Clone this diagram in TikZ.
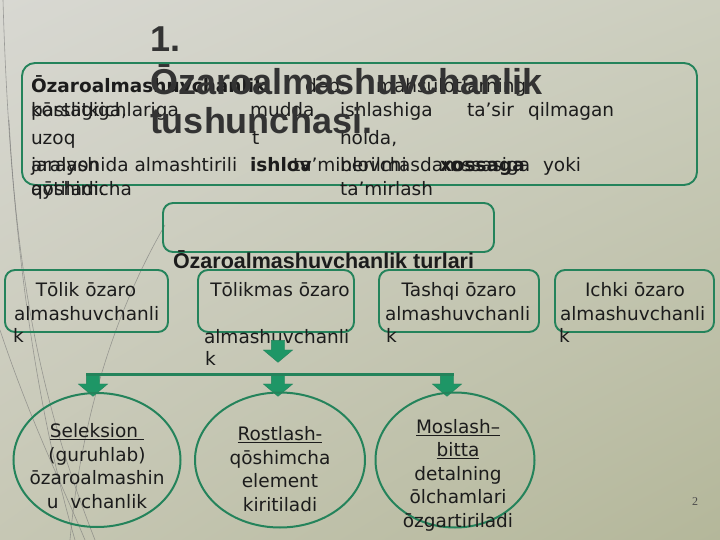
\documentclass[tikz,border=0pt]{standalone}
\usepackage{fontspec}
\setmainfont{DejaVu Sans}
\newfontfamily\headfont{Liberation Sans}
\newfontfamily\pagefont{Liberation Serif}
\usetikzlibrary{shapes.arrows,shapes.geometric,shadings}
\definecolor{edge}{HTML}{24835B}
\definecolor{arrowfill}{HTML}{1E9666}
\definecolor{ink}{HTML}{1C1C1C}
\definecolor{headgray}{HTML}{333333}
\definecolor{bgA}{RGB}{216,216,210}
\definecolor{bgB}{RGB}{204,206,190}
\definecolor{bgC}{RGB}{198,199,180}
\definecolor{bgD}{RGB}{180,183,154}

\begin{document}
\begin{tikzpicture}
[
    x=1pt, y=-1pt,
    every node/.style={inner sep=0pt, outer sep=0pt},
    box/.style={draw=edge, line width=1.9pt, rounded corners=13pt},
    ring/.style={draw=edge, line width=2pt, ellipse},
    body/.style={anchor=base west, text=ink, font=\fontsize{18.5}{22}\selectfont},
    mid/.style={anchor=base, text=ink, font=\fontsize{18.5}{22}\selectfont},
    inring/.style={text=ink, align=center, font=\fontsize{18.5}{23.5}\selectfont},
    head/.style={anchor=base west, text=headgray, font=\headfont\bfseries\fontsize{36}{40}\selectfont},
    downarrow/.style={single arrow, draw=edge, fill=arrowfill, line width=0.4pt,
        rotate=-90, inner sep=6.5pt, minimum height=22pt,
        single arrow head extend=8pt, single arrow tip angle=100},
    deco/.style={draw=black!55, line width=0.6pt, opacity=0.6},
]
\useasboundingbox (0,0) rectangle (720,540);
\shade[upper left=bgA, upper right=bgB, lower left=bgC, lower right=bgD]
    (0,0) rectangle (720,540);

% thin lines of the slide template
\draw[deco] (3,0) .. controls (10,250) and (40,420) .. (75,540);
\draw[deco] (9,120) .. controls (20,330) and (60,450) .. (95,540);
\draw[deco] (0,330) .. controls (30,420) and (60,480) .. (85,540);
\draw[deco] (165,225) .. controls (110,320) and (80,430) .. (70,540);

% frames
\draw[box] (22,63) rectangle (697,185);
\draw[box, rounded corners=10pt] (163,203) rectangle (494,252);

% definition text
\node[body] (d1) at (31,93) {\textbf{Ōzaroalmashuvchanlik}};
\node[body] (d2) at (305,93) {deb,};
\node[body] (d3) at (376,93) {mahsulotlarning};
\node[body] (d4) at (31,117) {kōrsatkichlariga};
\node[body] (d5) at (31,117) {pastligiga,};
\node[body] (d6) at (250,117) {mudda};
\node[body] (d7) at (340,117) {ishlashiga};
\node[body] (d8) at (467,117) {ta'sir};
\node[body] (d9) at (528,117) {qilmagan};
\node[body] (d10) at (31,145) {uzoq};
\node[body] (d11) at (252,145) {t};
\node[body] (d12) at (340,145) {holda,};
\node[body] (d13) at (31,172) {jarayonida almashtirili};
\node[body] (d14) at (31,172) {aralash};
\node[body] (d15) at (250,172) {\textbf{ishlov}};
\node[body] (d16) at (293,172) {ta'minlovchi};
\node[body] (d17) at (340,172) {berilmasdan};
\node[body] (d18) at (440,172) {\textbf{xossaga}};
\node[body] (d19) at (440,172) {xossasiga};
\node[body] (d20) at (543,172) {yoki};
\node[body] (d21) at (31,196) {qōshimcha};
\node[body] (d22) at (31,196) {aytiladi.};
\node[body] (d23) at (340,196) {ta'mirlash};

% title
\node[head] (t1) at (150,52) {1.};
\node[head] (t2) at (150,95) {Ōzaroalmashuvchanlik};
\node[head] (t3) at (150,134) {tushunchasi.};

\node[anchor=base west, text=ink, font=\headfont\bfseries\fontsize{21.5}{24}\selectfont]
    (kinds) at (173,268) {Ōzaroalmashuvchanlik turlari};

% four kinds
\draw[box, rounded corners=10pt] (5,270) rectangle (168,332);
\draw[box, rounded corners=10pt] (198,270) rectangle (354,332);
\draw[box, rounded corners=10pt] (379,270) rectangle (539,332);
\draw[box, rounded corners=10pt] (555,270) rectangle (714,332);

\node[mid] (k1) at (86,296) {Tōlik ōzaro};
\node[body] (k1b) at (14,320) {almashuvchanli};
\node[body] (k1c) at (13,342) {k};
\node[mid] (k2) at (280,296) {Tōlikmas ōzaro};
\node[body] (k2b) at (204,343) {almashuvchanli};
\node[body] (k2c) at (205,365) {k};
\node[mid] (k3) at (459,296) {Tashqi ōzaro};
\node[body] (k3b) at (385,320) {almashuvchanli};
\node[body] (k3c) at (386,342) {k};
\node[mid] (k4) at (635,296) {Ichki ōzaro};
\node[body] (k4b) at (560,320) {almashuvchanli};
\node[body] (k4c) at (559,342) {k};

% arrows
\node[downarrow] (a0) at (278,348.5) {};
\node[downarrow] (a1) at (93,382.5) {};
\node[downarrow] (a2) at (278,382.5) {};
\node[downarrow] (a3) at (447,382.5) {};
\draw[edge, line width=2.6pt] ([xshift=-7pt]a1.tail) -- ([xshift=7pt]a3.tail);

% methods
\node[ring, minimum width=167pt, minimum height=134pt] (m1) at (97,460) {};
\node[ring, minimum width=170pt, minimum height=135pt] (m2) at (280,460) {};
\node[ring, minimum width=159pt, minimum height=135pt] (m3) at (455,460) {};

\node[inring] (m1t) at (97,466) {\underline{Seleksion }\\(guruhlab)\\ōzaroalmashin\\u\ \ vchanlik};
\node[inring] (m2t) at (280,469) {\underline{Rostlash-}\\qōshimcha\\element\\kiritiladi};
\node[inring] (m3t) at (458,475) {\underline{Moslash–}\\\underline{bitta}\\detalning\\ōlchamlari\\ōzgartiriladi};

\node[anchor=base, text=black!70, font=\pagefont\fontsize{12}{14}\selectfont] (pg) at (695,505) {2};
\end{tikzpicture}
\end{document}
